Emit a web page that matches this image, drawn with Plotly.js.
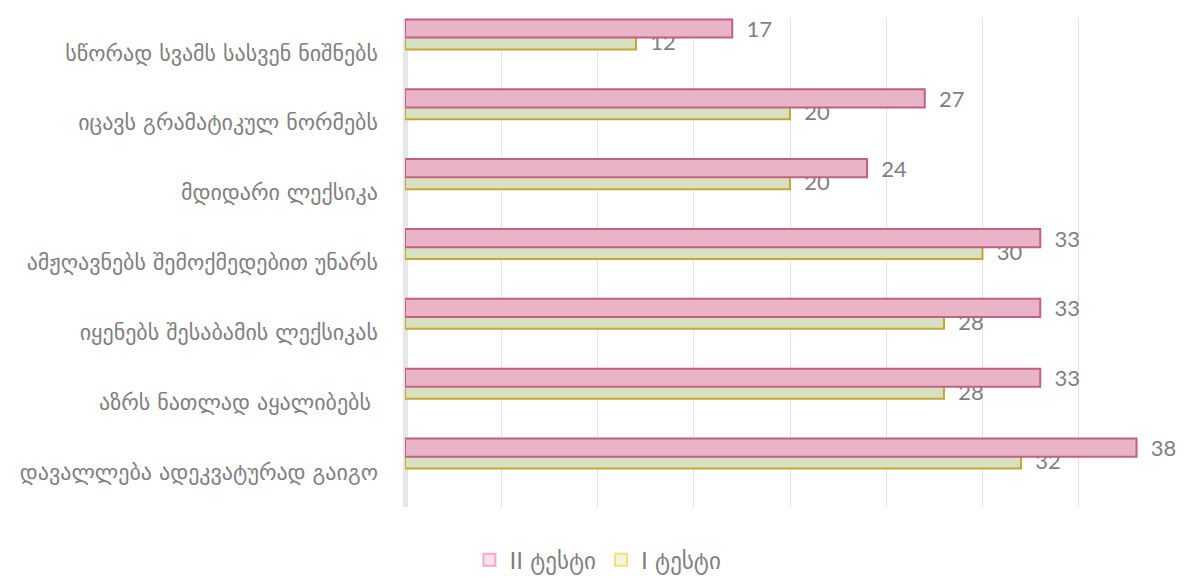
<!DOCTYPE html>
<html><head><meta charset="utf-8">
<script src="https://cdn.plot.ly/plotly-3.0.1.min.js"></script>
<style>html,body{margin:0;padding:0;background:#fff}#c{width:1184px;height:577px}</style>
</head><body><div id="c"></div>
<script>
const categories = [
  "სწორად სვამს სასვენ ნიშნებს",
  "იცავს გრამატიკულ ნორმებს",
  "მდიდარი ლექსიკა",
  "ამჟღავნებს შემოქმედებით უნარს",
  "იყენებს შესაბამის ლექსიკას",
  "აზრს ნათლად აყალიბებს ",
  "დავალლება ადეკვატურად გაიგო"
];
const seriesNames = ["II ტესტი", "I ტესტი"];
const test2 = [17, 27, 24, 33, 33, 33, 38];
const test1 = [12, 20, 20, 30, 28, 28, 32];

const gray = "#7f7f7f";
const valFont = {family: "Lato, 'DejaVu Sans', sans-serif", size: 22, color: gray};

const traces = [
  {type: "bar", orientation: "h", name: seriesNames[1], y: categories, x: test1,
   offset: -0.27, width: 0.22, showlegend: false,
   marker: {color: "#d8e0c2", line: {color: "#c9a634", width: 2}},
   text: test1, texttemplate: "  %{x}", textposition: "outside", textfont: valFont,
   constraintext: "none", cliponaxis: false, hoverinfo: "x+y"},
  {type: "bar", orientation: "h", name: seriesNames[0], y: categories, x: test2,
   offset: -0.48, width: 0.26, showlegend: false,
   marker: {color: "#e9b4c7", line: {color: "#c2607f", width: 2}},
   text: test2, texttemplate: "  %{x}", textposition: "outside", textfont: valFont,
   constraintext: "none", cliponaxis: false, hoverinfo: "x+y"},
  {type: "bar", orientation: "h", name: seriesNames[0], y: [null], x: [null],
   marker: {color: "#fde1ed", line: {color: "#f6a9c6", width: 2}}},
  {type: "bar", orientation: "h", name: seriesNames[1], y: [null], x: [null],
   marker: {color: "#eff6dd", line: {color: "#f8df7e", width: 2}}}
];

const layout = {
  width: 1184, height: 577,
  margin: {l: 405, r: 9, t: 18, b: 70},
  paper_bgcolor: "#ffffff", plot_bgcolor: "#ffffff",
  barmode: "overlay",
  showlegend: true,
  legend: {orientation: "h", x: 0.505, xanchor: "center", xref: "container",
           y: 0.03, yanchor: "middle", yref: "container",
           font: {family: "'DejaVu Sans', sans-serif", size: 23, color: gray},
           itemwidth: 30, traceorder: "normal"},
  xaxis: {range: [0, 40], dtick: 5, showticklabels: false, showgrid: true,
          gridcolor: "#e3e3e3", gridwidth: 1, zeroline: true, zerolinecolor: "#e6e6e6",
          zerolinewidth: 5, showline: false, fixedrange: true},
  yaxis: {type: "category", autorange: "reversed", showgrid: false, zeroline: false,
          showline: false, ticks: "", ticklabelstandoff: 26,
          tickfont: {family: "'DejaVu Sans', sans-serif", size: 22, color: gray}}
};

Plotly.newPlot("c", traces, layout, {displayModeBar: false, staticPlot: true});
</script>
</body></html>
